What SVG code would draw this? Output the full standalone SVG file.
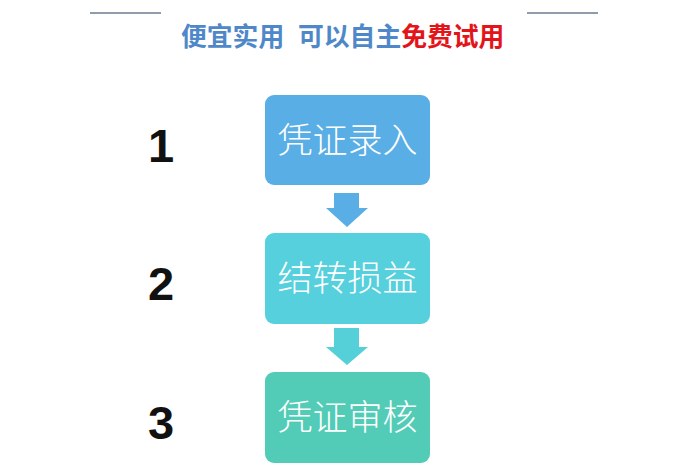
<svg xmlns="http://www.w3.org/2000/svg" width="700" height="470" viewBox="0 0 700 470">
<style>
.box text{font-family:"Noto Sans CJK SC",sans-serif;font-size:35px;fill:#fff;text-anchor:middle;font-weight:300}
.num{font-family:"Liberation Sans",Arial,sans-serif;font-size:47px;font-weight:bold;fill:#111;text-anchor:middle}
.sub{font-family:"Noto Sans CJK SC",sans-serif;font-size:25.8px;font-weight:bold}
</style>
<rect width="700" height="470" fill="#fff"/>
<g id="header">
<line x1="90" y1="13" x2="161" y2="13" stroke="#6b7b8c" stroke-width="1.6"/>
<line x1="527" y1="13" x2="598" y2="13" stroke="#6b7b8c" stroke-width="1.6"/>
<text class="sub" y="46"><tspan x="181" fill="#4f88c9">便宜实用</tspan><tspan x="298" fill="#4f88c9">可以自主</tspan><tspan fill="#e3151a">免费试用</tspan></text>
</g>
<g id="numbers">
<text class="num" x="161" y="162">1</text>
<text class="num" x="161" y="300">2</text>
<text class="num" x="161" y="439">3</text>
</g>
<g id="connectors">
<polygon points="334,193 359,193 359,208 368,208 347,227 326,208 334,208" fill="#5aaee6"/>
<polygon points="334,328 359,328 359,347 368,347 347,365 326,347 334,347" fill="#55d0d8"/>
</g>
<g id="node1" class="box">
<rect x="265" y="95" width="165" height="90" rx="9" fill="#5aaee6"/>
<text x="347.5" y="153">凭证录入</text>
</g>
<g id="node2" class="box">
<rect x="265" y="233" width="165" height="91" rx="9" fill="#55d0dc"/>
<text x="347.5" y="291">结转损益</text>
</g>
<g id="node3" class="box">
<rect x="265" y="372" width="165" height="91" rx="9" fill="#52ccb6"/>
<text x="347.5" y="430">凭证审核</text>
</g>
</svg>
